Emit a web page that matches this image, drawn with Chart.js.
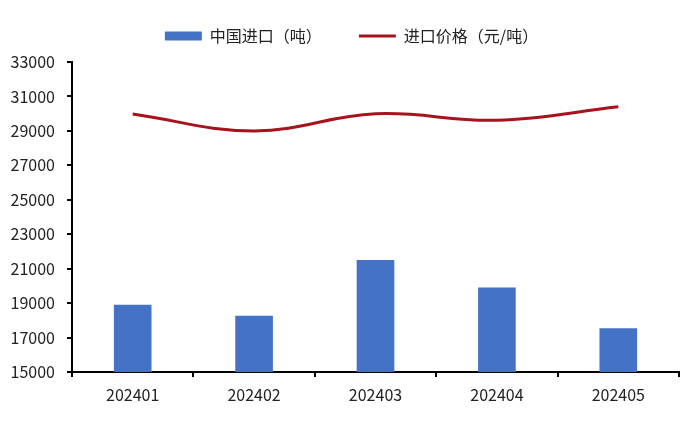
<!DOCTYPE html>
<html>
<head>
<meta charset="utf-8">
<script src="https://cdn.jsdelivr.net/npm/chart.js@4.4.0/dist/chart.umd.min.js"></script>
<style>
  html, body { margin: 0; padding: 0; background: #fff; }
  #wrap { width: 700px; height: 421px; }
</style>
</head>
<body>
<div id="wrap"><canvas id="chart"></canvas></div>
<script>
const months = ['202401', '202402', '202403', '202404', '202405'];
const importTons = [18900, 18270, 21500, 19900, 17540];
const importPrice = [29980, 29000, 29990, 29620, 30400];

const font = { family: '"Noto Sans CJK SC", "Microsoft YaHei", sans-serif', size: 16 };

// legend keeps its wide item gap, but its block height is fixed so the plot starts where it should
const legendHeight = {
  id: 'legendHeight',
  beforeInit(chart) {
    const lg = chart.legend;
    if (!lg) return;
    const fit = lg.fit;
    lg.fit = function () {
      fit.call(this);
      this.height = 71;
    };
  },
  afterLayout(chart) {
    // nudge the centred legend a bit to the right, like the original
    if (chart.legend) chart.legend.left += 24;
  }
};

new Chart(document.getElementById('chart'), {
  type: 'bar',
  data: {
    labels: months,
    datasets: [
      {
        type: 'line',
        label: '进口价格（元/吨）',
        data: importPrice,
        borderColor: '#A8121C',
        backgroundColor: '#A8121C',
        borderWidth: 3,
        pointRadius: 0,
        pointStyle: 'line',
        tension: 0.4,
        order: 0
      },
      {
        label: '中国进口（吨）',
        data: importTons,
        backgroundColor: '#4472C4',
        borderWidth: 0,
        pointStyle: 'rect',
        categoryPercentage: 1,
        barPercentage: 0.31,
        order: 1
      }
    ]
  },
  plugins: [legendHeight],
  options: {
    responsive: true,
    maintainAspectRatio: false,
    animation: false,
    layout: { padding: { left: 0, right: 21, top: -9, bottom: 0 } },
    plugins: {
      tooltip: { enabled: false },
      legend: {
        reverse: true,
        labels: {
          usePointStyle: true,
          pointStyleWidth: 37,
          boxHeight: 9,
          padding: 37,
          color: '#222',
          font: font
        }
      }
    },
    scales: {
      x: {
        offset: true,
        grid: { display: true, drawOnChartArea: false, offset: true, tickLength: 5, color: '#000', lineWidth: 2 },
        border: { color: '#000', width: 2 },
        ticks: { color: '#222', font: font, padding: 8 },
        afterFit: (s) => { s.height = 49; }
      },
      y: {
        min: 15000,
        max: 33000,
        grid: { display: true, drawOnChartArea: false, tickLength: 5, color: '#000', lineWidth: 2 },
        border: { color: '#000', width: 2 },
        ticks: { stepSize: 2000, color: '#222', font: font, padding: 12, callback: (v) => String(v) },
        afterFit: (s) => { s.width = 72; }
      }
    }
  }
});
</script>
</body>
</html>
